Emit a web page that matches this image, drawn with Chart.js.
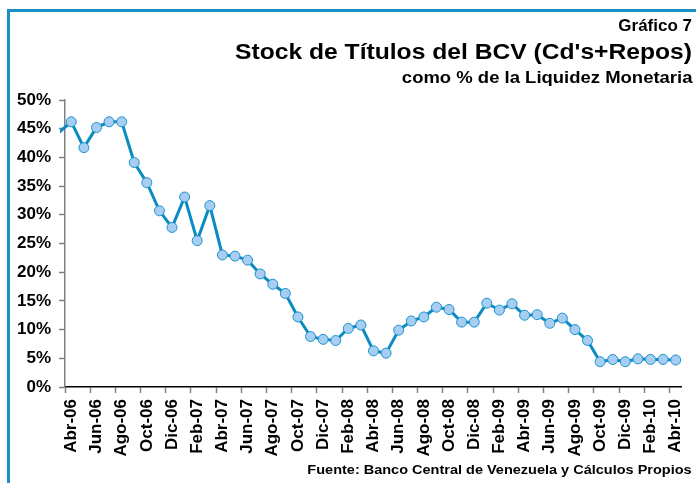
<!DOCTYPE html>
<html><head><meta charset="utf-8">
<script src="https://cdn.jsdelivr.net/npm/chart.js@4/dist/chart.umd.min.js"></script>
<style>
html,body{margin:0;padding:0;background:#fff;}
#wrap{position:relative;width:696px;height:483px;overflow:hidden;font-family:"Liberation Sans",Arial,sans-serif;}
#frame{position:absolute;left:7px;top:9px;width:720px;height:520px;border-left:3px solid #1a8fc4;border-top:3px solid #1a8fc4;}
canvas{position:absolute;left:0;top:0;}
.t{position:absolute;right:4px;font-weight:bold;color:#000;white-space:nowrap;transform-origin:right top;}
</style></head><body>
<div id="wrap">
<div id="frame"></div>
<canvas id="c" width="696" height="483"></canvas>
<div class="t" style="top:16px;font-size:17px;">Gráfico 7</div>
<div class="t" style="top:39px;font-size:22px;transform:scaleX(1.12)">Stock de Títulos del BCV (Cd's+Repos)</div>
<div class="t" style="top:68px;font-size:16.5px;transform:scaleX(1.12)">como % de la Liquidez Monetaria</div>
<div class="t" style="top:462px;font-size:13px;transform:scaleX(1.115)">Fuente: Banco Central de Venezuela y Cálculos Propios</div>
</div>
<script>
const leadMonth = 'Mar-06';
const leadValue = 44.3;
const months = ['Abr-06','May-06','Jun-06','Jul-06','Ago-06','Sep-06','Oct-06','Nov-06','Dic-06',
  'Ene-07','Feb-07','Mar-07','Abr-07','May-07','Jun-07','Jul-07','Ago-07','Sep-07','Oct-07','Nov-07','Dic-07',
  'Ene-08','Feb-08','Mar-08','Abr-08','May-08','Jun-08','Jul-08','Ago-08','Sep-08','Oct-08','Nov-08','Dic-08',
  'Ene-09','Feb-09','Mar-09','Abr-09','May-09','Jun-09','Jul-09','Ago-09','Sep-09','Oct-09','Nov-09','Dic-09',
  'Ene-10','Feb-10','Mar-10','Abr-10'];
const values = [46.2,41.7,45.2,46.2,46.2,39.1,35.6,30.7,27.8,
  33.1,25.5,31.6,23.0,22.8,22.1,19.7,17.9,16.3,12.2,8.8,8.3,
  8.1,10.2,10.8,6.3,5.9,9.9,11.5,12.2,13.9,13.5,11.3,11.3,
  14.6,13.4,14.5,12.5,12.6,11.1,12.0,10.0,8.1,4.4,4.8,4.4,
  4.9,4.8,4.8,4.7];
const yTicks = [0,5,10,15,20,25,30,35,40,45,50];

const pts = [{x:-1, y:leadValue}].concat(values.map((v,i)=>({x:i, y:v})));
const labelIdx = months.map((m,i)=>i).filter(i=>i%2===0);

new Chart(document.getElementById('c'), {
  type:'line',
  data:{datasets:[{
    label:'Stock de Títulos del BCV',
    data:pts,
    borderColor:'#0a8cc2',
    borderWidth:3,
    pointRadius:ctx=>ctx.dataIndex===0?0:5,
    pointBackgroundColor:'#a8cdf2',
    pointBorderColor:'#1a93cc',
    pointBorderWidth:1,
    tension:0,
    clip:{left:5,top:10,right:10,bottom:10}
  }]},
  options:{
    responsive:false,
    animation:false,
    layout:{padding:{left:0,top:100,right:11,bottom:0}},
    plugins:{legend:{display:false},tooltip:{enabled:false}},
    scales:{
      x:{
        type:'linear',
        min:-0.5, max:months.length-0.5,
        afterBuildTicks:s=>{s.ticks = labelIdx.map(i=>({value:i-0.5}));},
        afterFit:s=>{s.height=96;},
        grid:{drawOnChartArea:false,drawTicks:true,tickLength:6,tickColor:'#808080',tickWidth:1.5},
        border:{display:true,color:'#000',width:1.5},
        ticks:{
          autoSkip:false,minRotation:90,maxRotation:90,
          labelOffset:620/months.length/2,
          padding:6,
          color:'#000',
          font:{family:'"Liberation Sans", Arial, sans-serif',size:17,weight:'bold'},
          callback:v=>months[Math.round(v+0.5)]
        }
      },
      y:{
        min:0,max:50,
        afterBuildTicks:s=>{s.ticks = yTicks.map(v=>({value:v}));},
        afterFit:s=>{s.width=65;},
        grid:{drawOnChartArea:false,drawTicks:true,tickLength:6,tickColor:'#808080',tickWidth:1.5},
        border:{display:true,color:'#808080',width:1.5},
        ticks:{
          padding:8,color:'#000',
          font:{family:'"Liberation Sans", Arial, sans-serif',size:17,weight:'bold'},
          callback:v=>v+'%'
        }
      }
    }
  }
});
</script>
</body></html>
